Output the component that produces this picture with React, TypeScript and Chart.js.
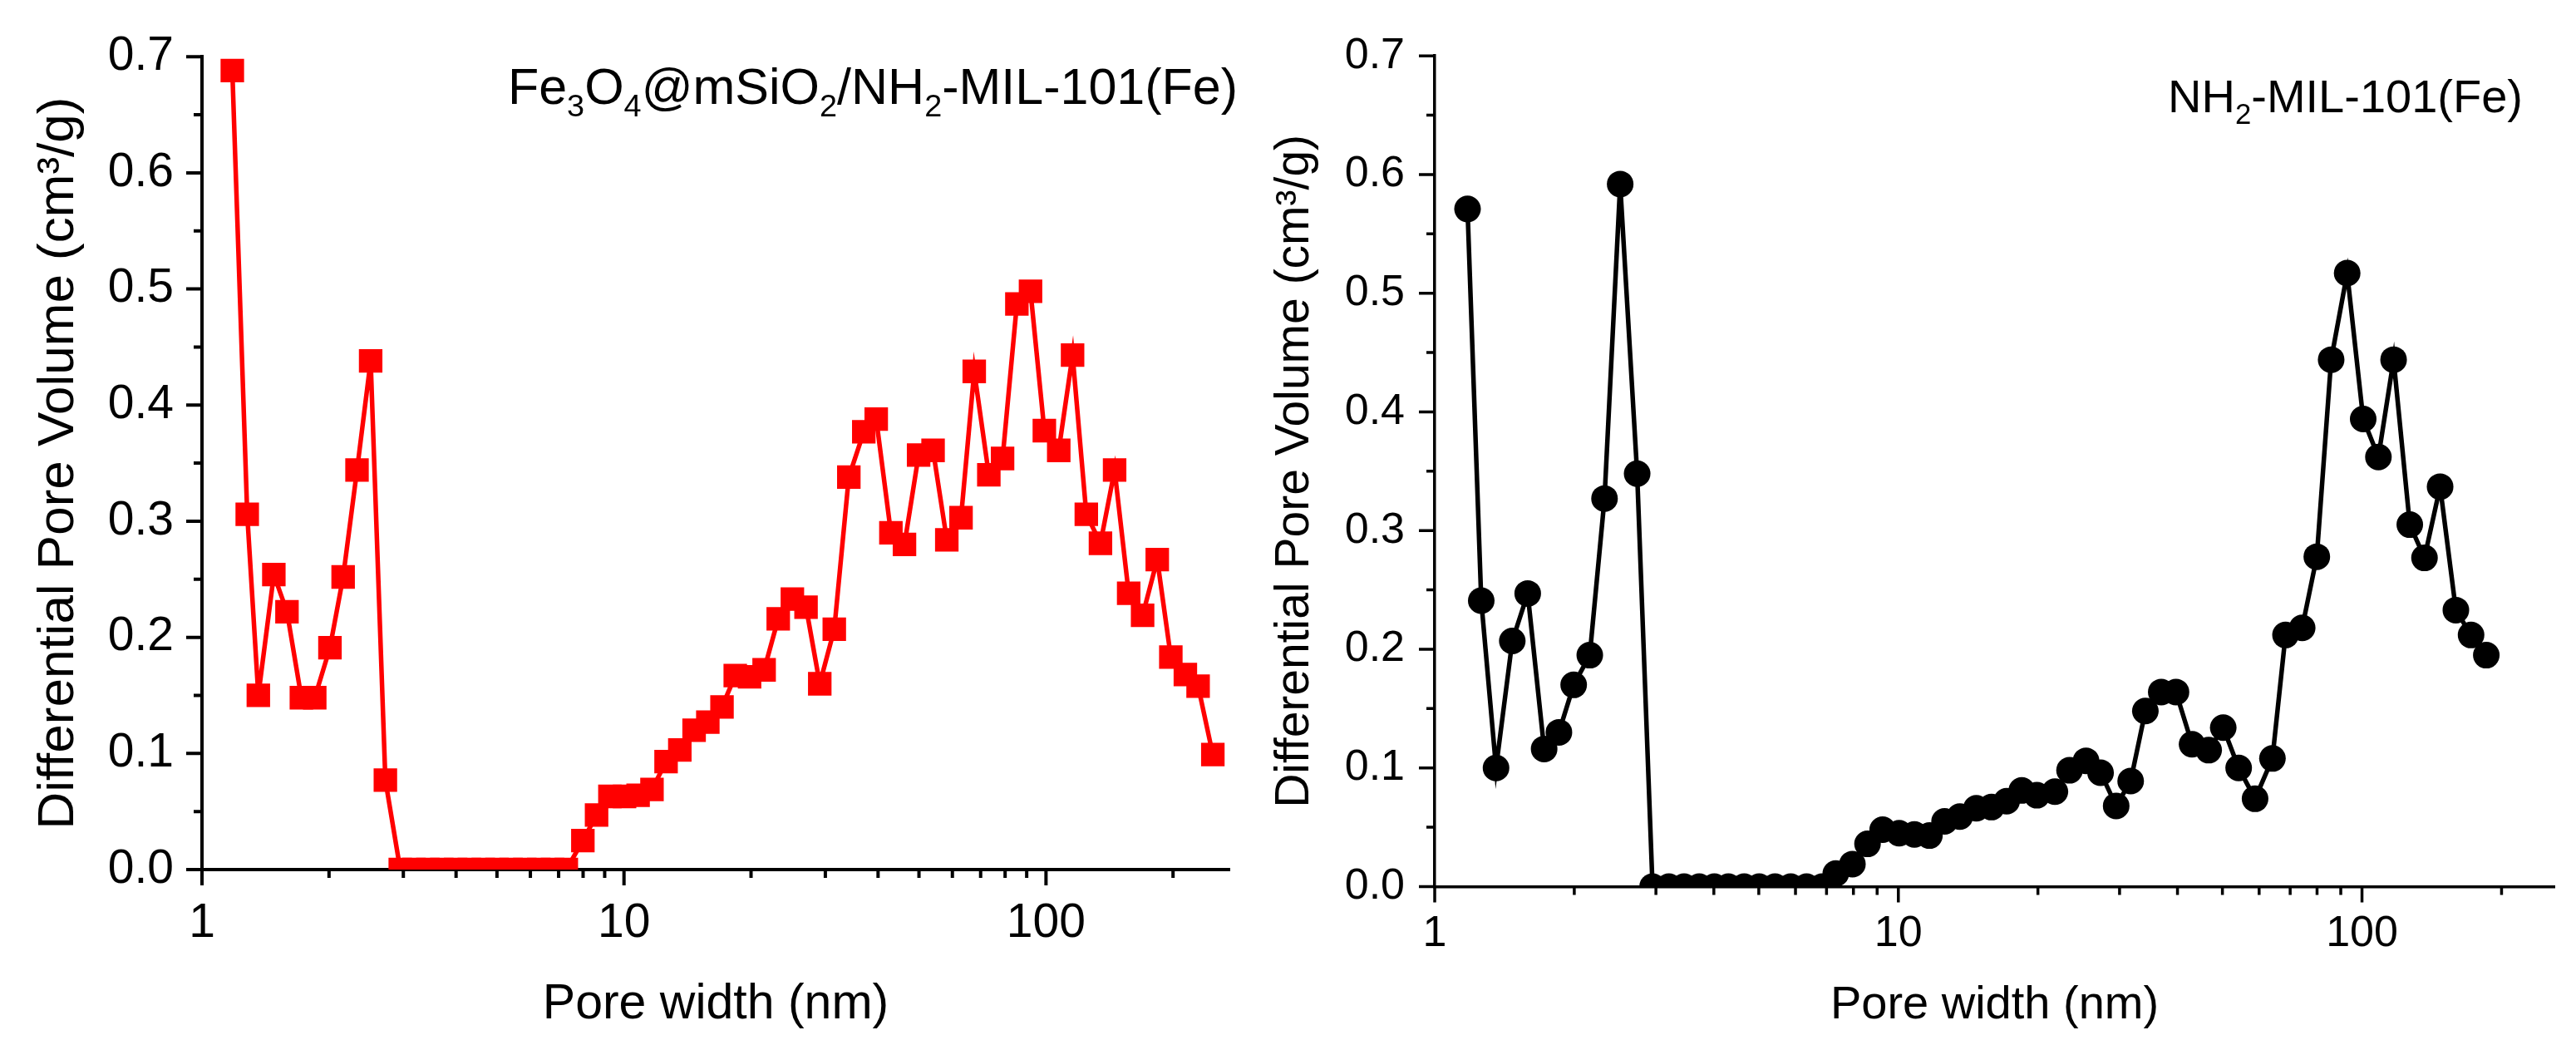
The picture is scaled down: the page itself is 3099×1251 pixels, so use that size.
import { useEffect, useRef } from "react";
import { Chart, registerables } from "chart.js";

Chart.register(...registerables);
Chart.defaults.font.family = '"Liberation Sans", Arial, sans-serif';
Chart.defaults.color = "#000";

// Fe3O4@mSiO2/NH2-MIL-101(Fe): pore width (nm) and differential pore volume (cm3/g)
const compositeWidth = [
  1.18, 1.28, 1.36, 1.48, 1.59, 1.72, 1.85, 2.01, 2.16, 2.33, 2.51, 2.72,
  2.95, 3.18, 3.43, 3.7, 3.99, 4.3, 4.64, 5.0, 5.4, 5.82, 6.28, 6.77, 7.3,
  7.99, 8.61, 9.26, 10.03, 10.8, 11.65, 12.58, 13.56, 14.66, 15.8,
  17.07, 18.35, 19.84, 21.48, 23.2, 25.06, 27.0, 29.1, 31.5, 34.1,
  37.0, 39.6, 42.9, 46.2, 49.9, 54.0, 58.2, 62.9, 67.6, 73.2,
  78.9, 85.3, 91.9, 99.1, 107.2, 115.6, 124.6, 134.6, 145.4, 157,
  169.4, 183.5, 197.6, 213.9, 229.3, 248.5,
];
const compositeVolume = [
  0.688, 0.306, 0.15, 0.254, 0.222, 0.148, 0.148, 0.191, 0.252, 0.344, 0.438, 0.077,
  0, 0, 0, 0, 0, 0, 0, 0, 0, 0, 0, 0, 0,
  0.025, 0.047, 0.063, 0.063, 0.064, 0.069, 0.093, 0.103, 0.12, 0.127,
  0.14, 0.167, 0.166, 0.172, 0.216, 0.233, 0.226, 0.16, 0.207, 0.338,
  0.377, 0.388, 0.29, 0.28, 0.357, 0.361, 0.284, 0.303, 0.429, 0.34,
  0.354, 0.487, 0.498, 0.378, 0.361, 0.443, 0.306, 0.281, 0.344, 0.238,
  0.219, 0.267, 0.183, 0.168, 0.158, 0.099,
];

// NH2-MIL-101(Fe)
const mofWidth = [
  1.177, 1.26, 1.356, 1.47, 1.587, 1.722, 1.853, 1.994, 2.16, 2.324, 2.512, 2.733,
  2.95, 3.2, 3.45, 3.72, 4.01, 4.3, 4.65, 5.01, 5.42, 5.86, 6.34, 6.85,
  7.33, 7.96, 8.58, 9.25, 10.04, 10.83, 11.67, 12.58, 13.57, 14.73,
  15.88, 17.12, 18.46, 19.9, 21.76, 23.4, 25.4, 27.3, 29.5, 31.7,
  34.1, 36.9, 39.7, 43.0, 46.7, 50.2, 54.2, 58.8, 64.1, 68.4,
  74.3, 79.9, 85.8, 92.9, 100.6, 108.5, 117, 126.8, 136.4, 147.4,
  159.4, 171.9, 185.4,
];
const mofVolume = [
  0.571, 0.241, 0.1, 0.207, 0.247, 0.116, 0.13, 0.17, 0.195, 0.327, 0.592, 0.348,
  0, 0, 0, 0, 0, 0, 0, 0, 0, 0, 0, 0,
  0.011, 0.019, 0.036, 0.048, 0.045, 0.044, 0.043, 0.055, 0.059, 0.066,
  0.067, 0.072, 0.081, 0.077, 0.08, 0.098, 0.106, 0.096, 0.068, 0.089,
  0.148, 0.164, 0.164, 0.12, 0.115, 0.134, 0.1, 0.074, 0.108, 0.212,
  0.218, 0.278, 0.444, 0.517, 0.394, 0.362, 0.444, 0.305, 0.277, 0.337,
  0.233, 0.212, 0.195,
];

const xMajorTicks = [1, 10, 100];
const xMinorTicks = [2, 3, 4, 5, 6, 7, 8, 9, 20, 30, 40, 50, 60, 70, 80, 90, 200];
const yMajorTicks = [0, 0.1, 0.2, 0.3, 0.4, 0.5, 0.6, 0.7];
const yMinorTicks = [0.05, 0.15, 0.25, 0.35, 0.45, 0.55, 0.65];

// text pieces, true = subscript
type Part = [string, boolean];
const compositeLabel: Part[] = [
  ["Fe", false], ["3", true], ["O", false], ["4", true], ["@mSiO", false],
  ["2", true], ["/NH", false], ["2", true], ["-MIL-101(Fe)", false],
];
const mofLabel: Part[] = [["NH", false], ["2", true], ["-MIL-101(Fe)", false]];

const PAGE_H = 1251;
const MAJOR_LEN = 19;
const MINOR_LEN = 10;
const FONT = '"Liberation Sans", Arial, sans-serif';

type Panel = {
  widths: number[];
  volumes: number[];
  label: Part[];
  xMax: number;
  color: string;
  pointStyle: "rect" | "circle";
  pointRadius: number;
  lineWidth: number;
  axisWidth: number;
  box: { left: number; width: number };
  plot: { left: number; right: number; top: number; bottom: number };
  labelCenter: number;
  labelBaseline: number;
  fonts: { tick: number; title: number; yTitle: number; label: number };
  pads: { xTick: number; yTick: number; xTitle: number; yTitle: number };
};

const leftPanel: Panel = {
  widths: compositeWidth,
  volumes: compositeVolume,
  label: compositeLabel,
  xMax: 272,
  color: "#ff0000",
  pointStyle: "rect",
  pointRadius: 20,
  lineWidth: 5.5,
  axisWidth: 4,
  box: { left: 0, width: 1510 },
  plot: { left: 243, right: 1490, top: 45, bottom: 1046 },
  labelCenter: 1050,
  labelBaseline: 125,
  fonts: { tick: 57, title: 59, yTitle: 62, label: 61 },
  pads: { xTick: 31, yTick: 34, xTitle: 7, yTitle: 34 },
};

const rightPanel: Panel = {
  widths: mofWidth,
  volumes: mofVolume,
  label: mofLabel,
  xMax: 260,
  color: "#000000",
  pointStyle: "circle",
  pointRadius: 16,
  lineWidth: 5.5,
  axisWidth: 3.5,
  box: { left: 1510, width: 1589 },
  plot: { left: 1726, right: 3082, top: 58.5, bottom: 1066.5 },
  labelCenter: 2821.5,
  labelBaseline: 135,
  fonts: { tick: 52, title: 56, yTitle: 57, label: 56 },
  pads: { xTick: 26, yTick: 36, xTitle: 8, yTitle: 14 },
};

// minor/major tick marks and the sample name with subscripts
function decorPlugin(p: Panel) {
  return {
    id: "decor",
    afterDraw(chart: Chart) {
      const { ctx, chartArea } = chart;
      const xs = chart.scales.x;
      const ys = chart.scales.y;
      ctx.save();
      ctx.strokeStyle = "#000";
      ctx.lineWidth = p.axisWidth;
      ctx.beginPath();
      const tickX = (v: number, len: number) => {
        if (v > p.xMax) return;
        const px = xs.getPixelForValue(v);
        ctx.moveTo(px, chartArea.bottom);
        ctx.lineTo(px, chartArea.bottom + len);
      };
      const tickY = (v: number, len: number) => {
        const py = ys.getPixelForValue(v);
        ctx.moveTo(chartArea.left, py);
        ctx.lineTo(chartArea.left - len, py);
      };
      xMajorTicks.forEach((v) => tickX(v, MAJOR_LEN));
      xMinorTicks.forEach((v) => tickX(v, MINOR_LEN));
      yMajorTicks.forEach((v) => tickY(v, MAJOR_LEN));
      yMinorTicks.forEach((v) => tickY(v, MINOR_LEN));
      ctx.stroke();

      const size = p.fonts.label;
      const subSize = size * 0.62;
      const mainFont = `${size}px ${FONT}`;
      const subFont = `${subSize}px ${FONT}`;
      let total = 0;
      p.label.forEach(([t, sub]) => {
        ctx.font = sub ? subFont : mainFont;
        total += ctx.measureText(t).width;
      });
      let x = p.labelCenter - p.box.left - total / 2;
      ctx.fillStyle = "#000";
      ctx.textBaseline = "alphabetic";
      ctx.textAlign = "left";
      p.label.forEach(([t, sub]) => {
        ctx.font = sub ? subFont : mainFont;
        ctx.fillText(t, x, p.labelBaseline + (sub ? size * 0.25 : 0));
        x += ctx.measureText(t).width;
      });
      ctx.restore();
    },
  };
}

function PoreChart({ panel }: { panel: Panel }) {
  const canvasRef = useRef<HTMLCanvasElement | null>(null);
  const chartRef = useRef<Chart | null>(null);

  useEffect(() => {
    const p = panel;
    const ctx = canvasRef.current?.getContext("2d");
    if (!ctx) return;
    const ox = p.box.left;

    chartRef.current = new Chart(ctx, {
      type: "line",
      data: {
        datasets: [
          {
            data: p.widths.map((x, i) => ({ x, y: p.volumes[i] })),
            borderColor: p.color,
            backgroundColor: p.color,
            borderWidth: p.lineWidth,
            pointStyle: p.pointStyle,
            pointRadius: p.pointRadius,
            pointBorderWidth: 0,
            pointBackgroundColor: p.color,
            tension: 0,
          },
        ],
      },
      options: {
        responsive: false,
        animation: false,
        events: [],
        layout: {
          padding: {
            left: 0,
            top: p.plot.top,
            right: p.box.width - (p.plot.right - ox),
            bottom: 0,
          },
        },
        plugins: {
          legend: { display: false },
          tooltip: { enabled: false },
        },
        scales: {
          x: {
            type: "logarithmic",
            min: 1,
            max: p.xMax,
            grid: { display: false, drawTicks: false },
            border: { display: true, color: "#000", width: p.axisWidth },
            ticks: {
              autoSkip: false,
              maxRotation: 0,
              padding: p.pads.xTick,
              font: { size: p.fonts.tick },
              color: "#000",
              // eslint-disable-next-line @typescript-eslint/no-explicit-any
              callback: (v: any) => (xMajorTicks.includes(Number(v)) ? String(v) : ""),
            },
            title: {
              display: true,
              text: "Pore width (nm)",
              color: "#000",
              font: { size: p.fonts.title },
              padding: { top: 0, bottom: p.pads.xTitle },
            },
            // eslint-disable-next-line @typescript-eslint/no-explicit-any
            afterFit: (s: any) => {
              s.height = PAGE_H - p.plot.bottom;
            },
          },
          y: {
            type: "linear",
            min: 0,
            max: 0.7,
            grid: { display: false, drawTicks: false },
            border: { display: true, color: "#000", width: p.axisWidth },
            ticks: {
              stepSize: 0.1,
              autoSkip: false,
              padding: p.pads.yTick,
              font: { size: p.fonts.tick },
              color: "#000",
              // eslint-disable-next-line @typescript-eslint/no-explicit-any
              callback: (v: any) => Number(v).toFixed(1),
            },
            title: {
              display: true,
              text: "Differential Pore Volume (cm³/g)",
              color: "#000",
              font: { size: p.fonts.yTitle },
              padding: { top: p.pads.yTitle, bottom: 0 },
            },
            // eslint-disable-next-line @typescript-eslint/no-explicit-any
            afterFit: (s: any) => {
              s.width = p.plot.left - ox;
            },
          },
        },
      },
      plugins: [decorPlugin(p)],
    });

    return () => {
      chartRef.current?.destroy();
      chartRef.current = null;
    };
  }, [panel]);

  return (
    <div
      style={{
        position: "absolute",
        left: panel.box.left,
        top: 0,
        width: panel.box.width,
        height: PAGE_H,
      }}
    >
      <canvas ref={canvasRef} width={panel.box.width} height={PAGE_H} />
    </div>
  );
}

export default function App() {
  return (
    <div
      style={{
        position: "absolute",
        left: 0,
        top: 0,
        width: 3099,
        height: PAGE_H,
        background: "#fff",
      }}
    >
      <PoreChart panel={leftPanel} />
      <PoreChart panel={rightPanel} />
    </div>
  );
}
